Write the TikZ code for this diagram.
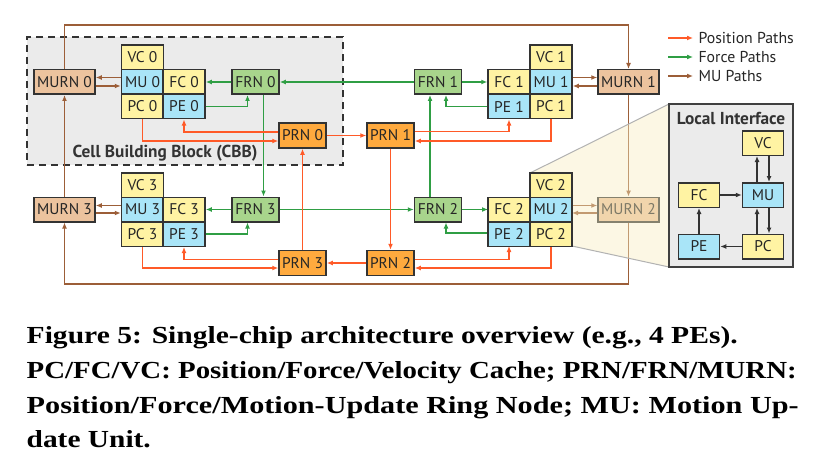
\documentclass[tikz,border=0pt]{standalone}
\usepackage{fontspec}
\usepackage{graphicx}
\setmainfont{PT Sans}
\newfontfamily\capfont{Liberation Serif}
\usetikzlibrary{arrows.meta}
\definecolor{cyel}{HTML}{FFF3A3}
\definecolor{cblue}{HTML}{A9E5F8}
\definecolor{cfrn}{HTML}{A8D58C}
\definecolor{cprn}{HTML}{FFAA3E}
\definecolor{cmurn}{HTML}{ECC39E}
\definecolor{cgrayfill}{HTML}{EBEBEB}
\definecolor{cedge}{HTML}{333333}
\definecolor{corange}{HTML}{FF5A28}
\definecolor{cgreen}{HTML}{2F9E44}
\definecolor{cbrown}{HTML}{9C5E38}
\definecolor{cfan}{HTML}{F8EEC1}
\tikzset{
  unitbox/.style={draw=cedge, line width=1.5pt, inner sep=0pt, minimum height=24.5pt,
    font=\fontsize{15.5}{17}\selectfont, text=black!85},
  cellY/.style={unitbox, fill=cyel, minimum width=42pt},
  cellB/.style={unitbox, fill=cblue, minimum width=42pt},
  frnbox/.style={unitbox, fill=cfrn, minimum width=47pt},
  prnbox/.style={unitbox, fill=cprn, minimum width=47pt, minimum height=25pt},
  murnbox/.style={unitbox, fill=cmurn, minimum width=61pt},
  arrtip/.style={-{Latex[length=6pt,width=5pt]}},
  pospath/.style={arrtip, draw=corange, line width=1.3pt},
  frcpath/.style={arrtip, draw=cgreen, line width=1.3pt},
  mupath/.style={arrtip, draw=cbrown, line width=1.3pt},
  locpath/.style={arrtip, draw=cedge, line width=1.3pt},
  legtext/.style={font=\fontsize{15.8}{17}\selectfont, anchor=west, text=black!85},
}
\begin{document}
\begin{tikzpicture}[x=1pt,y=-1pt]
\useasboundingbox (0,0) rectangle (829,468);
\fill[white] (0,0) rectangle (829,468);

% CBB
\node[draw=cedge, fill=cgrayfill, dashed, dash pattern=on 7pt off 5pt, line width=2.2pt,
  minimum width=316pt, minimum height=128pt, inner sep=0pt] (cbb) at (185,101) {};
\node[font=\bfseries\fontsize{17.3}{19}\selectfont, text=black!80] (cbbt) at (165,153) {Cell Building Block (CBB)};

% Quadrant 0
\node[cellY] (VC0) at (142.5,57.5) {VC 0};
\node[cellB] (MU0) at (142.5,82) {MU 0};
\node[cellY] (FC0) at (184,82) {FC 0};
\node[cellY] (PC0) at (142.5,106.5) {PC 0};
\node[cellB] (PE0) at (184,106.5) {PE 0};
\node[frnbox] (FRN0) at (255.5,82) {FRN 0};
\node[prnbox] (PRN0) at (302.5,135.5) {PRN 0};
\node[murnbox] (MURN0) at (64.5,82) {MURN 0};

% Quadrant 1
\node[cellY] (VC1) at (551,57.5) {VC 1};
\node[cellY] (FC1) at (509,82) {FC 1};
\node[cellB] (MU1) at (551,82) {MU 1};
\node[cellB] (PE1) at (509,106.5) {PE 1};
\node[cellY] (PC1) at (551,106.5) {PC 1};
\node[frnbox] (FRN1) at (438,82) {FRN 1};
\node[prnbox] (PRN1) at (390.5,135.5) {PRN 1};
\node[murnbox] (MURN1) at (628.5,82) {MURN 1};

% Quadrant 3
\node[cellY] (VC3) at (142.5,185) {VC 3};
\node[cellB] (MU3) at (142.5,209.5) {MU 3};
\node[cellY] (FC3) at (184,209.5) {FC 3};
\node[cellY] (PC3) at (142.5,234) {PC 3};
\node[cellB] (PE3) at (184,234) {PE 3};
\node[frnbox] (FRN3) at (255.5,209.5) {FRN 3};
\node[prnbox] (PRN3) at (302.5,263) {PRN 3};
\node[murnbox] (MURN3) at (64.5,209.5) {MURN 3};

% Quadrant 2 (MURN first, rest after fan)
\node[murnbox] (MURN2) at (628.5,209.5) {MURN 2};
\node[frnbox] (FRN2) at (438,209.5) {FRN 2};
\node[prnbox] (PRN2) at (390.5,263) {PRN 2};

% ring coordinates
\coordinate (rTL) at (64.5,25);
\coordinate (rTR) at (628.5,25);
\coordinate (rBL) at (64.5,284);
\coordinate (rBR) at (628.5,284);

% MU ring
\draw[mupath] (MURN0.north) -- (rTL) -- (rTR) -- (MURN1.north);
\draw[mupath] (MURN1.south) -- (MURN2.north);
\draw[mupath] (MURN2.south) -- (rBR) -- (rBL) -- (MURN3.south);
\draw[mupath] (MURN3.north) -- (MURN0.south);
\draw[mupath] ([yshift=4.5pt]MU0.west) -- ([yshift=4.5pt]MURN0.east);
\draw[mupath] ([yshift=-4pt]MURN0.east) -- ([yshift=-4pt]MU0.west);
\draw[mupath] ([yshift=4.5pt]MU1.east) -- ([yshift=4.5pt]MURN1.west);
\draw[mupath] ([yshift=-4pt]MURN1.west) -- ([yshift=-4pt]MU1.east);
\draw[mupath] ([yshift=4pt]MU3.west) -- ([yshift=4pt]MURN3.east);
\draw[mupath] ([yshift=-3.5pt]MURN3.east) -- ([yshift=-3.5pt]MU3.west);
\coordinate (mu2e) at (572,209.5);
\draw[mupath] ([yshift=4pt]mu2e) -- ([yshift=4pt]MURN2.west);
\draw[mupath] ([yshift=-3.5pt]MURN2.west) -- ([yshift=-3.5pt]mu2e);

% Force paths
\draw[frcpath] (FRN0.west) -- (FC0.east);
\draw[frcpath] (FRN1.west) -- (FRN0.east);
\draw[frcpath] (PE0.east) -| ([xshift=-8pt]FRN0.south);
\draw[frcpath] ([xshift=8pt]FRN0.south) -- ([xshift=8pt]FRN3.north);
\draw[frcpath] (FRN1.east) -- (FC1.west);
\draw[frcpath] (PE1.west) -| ([xshift=8pt]FRN1.south);
\draw[frcpath] ([xshift=-8pt]FRN2.north) -- ([xshift=-8pt]FRN1.south);
\draw[frcpath] (FRN3.west) -- (FC3.east);
\draw[frcpath] (PE3.east) -| ([xshift=-8pt]FRN3.south);
\draw[frcpath] (FRN3.east) -- (FRN2.west);
\coordinate (fc2w) at (488,209.5);
\coordinate (pe2w) at (488,233);
\draw[frcpath] (FRN2.east) -- (fc2w);
\draw[frcpath] (pe2w) -| ([xshift=8pt]FRN2.south);

% Position paths
\draw[pospath] (PC0.south) |- ([yshift=-5.5pt]PRN0.west);
\draw[pospath] ([yshift=3.5pt]PRN0.west) -| (PE0.south);
\draw[pospath] (PRN0.east) -- (PRN1.west);
\draw[pospath] (PRN3.north) -- (PRN0.south);
\draw[pospath] ([yshift=4pt]PRN1.east) -| (PE1.south);
\draw[pospath] (PC1.south) |- ([yshift=-5.5pt]PRN1.east);
\draw[pospath] (PRN1.south) -- (PRN2.north);
\draw[pospath] (PC3.south) |- ([yshift=-5pt]PRN3.west);
\draw[pospath] ([yshift=3.5pt]PRN3.west) -| (PE3.south);
\draw[pospath] (PRN2.west) -- (PRN3.east);
\coordinate (pe2s) at (509,246);
\coordinate (pc2s) at (551,246);
\draw[pospath] ([yshift=3.5pt]PRN2.east) -| (pe2s);
\draw[pospath] (pc2s) |- ([yshift=-5pt]PRN2.east);

% Fan
\fill[cfan, opacity=0.42] (530,173) -- (669,104) -- (669,267) -- (572,246) -- (572,173) -- cycle;
\draw[black!30, line width=1pt] (530,173) -- (669,104);
\draw[black!30, line width=1pt] (572,246) -- (669,267);

% Quadrant 2 cells
\node[cellY] (VC2) at (551,185) {VC 2};
\node[cellY] (FC2) at (509,209.5) {FC 2};
\node[cellB] (MU2) at (551,209.5) {MU 2};
\node[cellB] (PE2) at (509,234) {PE 2};
\node[cellY] (PC2) at (551,234) {PC 2};

% Local interface
\node[draw=black!75, fill=cgrayfill, line width=1.3pt, minimum width=124pt, minimum height=163pt, inner sep=0pt] (LI) at (731,185.5) {};
\node[font=\bfseries\fontsize{17.3}{19}\selectfont, text=black!80] (LIt) at (731,118) {Local Interface};
\node[cellY, minimum width=41pt] (LVC) at (763,143) {VC};
\node[cellY, minimum width=41pt] (LFC) at (699,195) {FC};
\node[cellB, minimum width=41pt] (LMU) at (763,195) {MU};
\node[cellB, minimum width=41pt] (LPE) at (699,246.5) {PE};
\node[cellY, minimum width=41pt] (LPC) at (763,246.5) {PC};
\draw[locpath] ([xshift=-6pt]LMU.north) -- ([xshift=-6pt]LVC.south);
\draw[locpath] ([xshift=6pt]LVC.south) -- ([xshift=6pt]LMU.north);
\draw[locpath] (LFC.east) -- (LMU.west);
\draw[locpath] ([xshift=-6pt]LPC.north) -- ([xshift=-6pt]LMU.south);
\draw[locpath] ([xshift=6pt]LMU.south) -- ([xshift=6pt]LPC.north);
\draw[locpath] (LPC.west) -- (LPE.east);
\draw[locpath] (LPE.north) -- (LFC.south);

% Legend
\coordinate (l1a) at (668,38); \coordinate (l1b) at (693,38);
\coordinate (l2a) at (668,57); \coordinate (l2b) at (693,57);
\coordinate (l3a) at (668,76); \coordinate (l3b) at (693,76);
\draw[pospath] (l1a) -- (l1b);
\draw[frcpath] (l2a) -- (l2b);
\draw[mupath] (l3a) -- (l3b);
\node[legtext] (t1) at (695,38) {Position Paths};
\node[legtext] (t2) at (695,57) {Force Paths};
\node[legtext] (t3) at (695,76) {MU Paths};

% Caption
\begin{scope}[every node/.style={anchor=base west, inner sep=0pt, font=\capfont\bfseries\fontsize{24.5}{28}\selectfont}]
\node (c1) at (26.5,343) {\resizebox{711pt}{\height}{Figure 5: Single-chip architecture overview (e.g., 4 PEs).}};
\node (c2) at (26.5,378) {\resizebox{770pt}{\height}{PC/FC/VC: Position/Force/Velocity Cache; PRN/FRN/MURN:}};
\node (c3) at (26.5,413) {\resizebox{772pt}{\height}{Position/Force/Motion-Update Ring Node; MU: Motion Up-}};
\node (c4) at (26.5,447) {\scalebox{1.2}[1]{date Unit.}};
\end{scope}
\end{tikzpicture}
\end{document}
